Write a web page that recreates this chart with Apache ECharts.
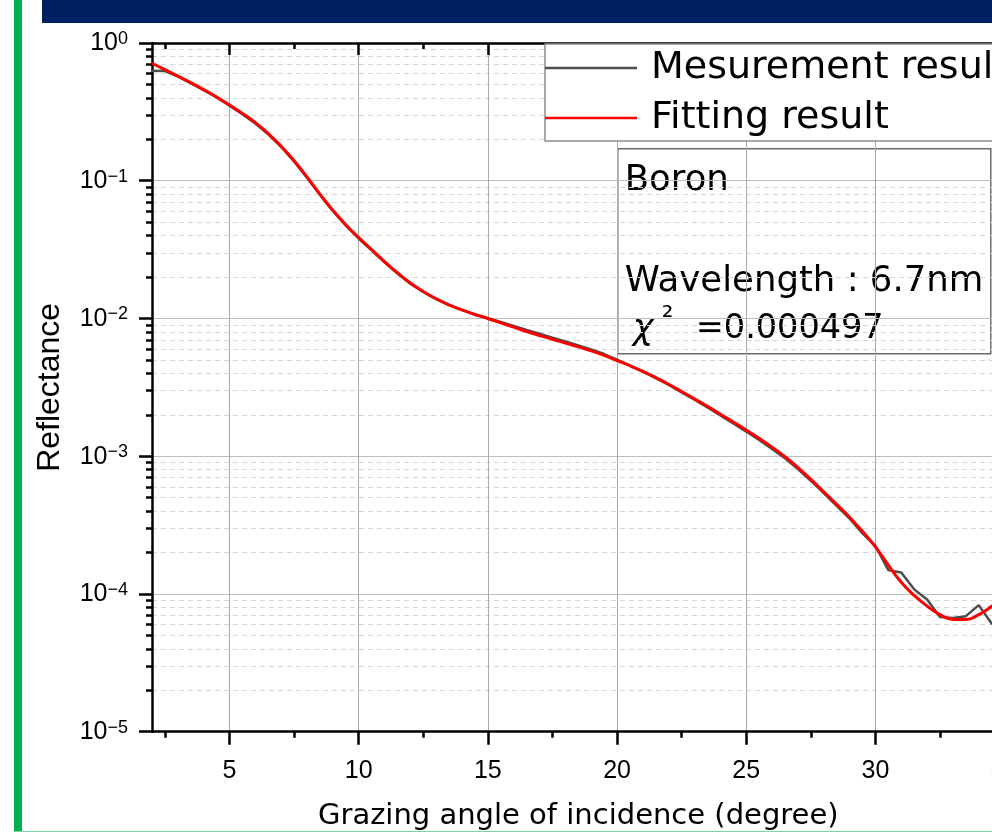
<!DOCTYPE html>
<html>
<head>
<meta charset="utf-8">
<script src="https://cdn.jsdelivr.net/npm/echarts@6/dist/echarts.min.js"></script>
<style>
  html, body { margin: 0; padding: 0; background: #ffffff; }
  #chart { width: 992px; height: 832px; }
</style>
</head>
<body>
<div id="chart"></div>
<script>
// Grazing angle (degree), sampled every 0.5 degree
const angles = [
  2.0, 2.5, 3.0, 3.5, 4.0, 4.5, 5.0, 5.5, 6.0, 6.5, 7.0, 7.5, 8.0, 8.5, 9.0, 9.5,
  10.0, 10.5, 11.0, 11.5, 12.0, 12.5, 13.0, 13.5, 14.0, 14.5, 15.0, 15.5, 16.0, 16.5,
  17.0, 17.5, 18.0, 18.5, 19.0, 19.5, 20.0, 20.5, 21.0, 21.5, 22.0, 22.5, 23.0, 23.5,
  24.0, 24.5, 25.0, 25.5, 26.0, 26.5, 27.0, 27.5, 28.0, 28.5, 29.0, 29.5, 30.0, 30.5,
  31.0, 31.5, 32.0, 32.5, 33.0, 33.5, 34.0, 34.5, 35.0
];

// Measured reflectance
const measured = [
  0.630, 0.625, 0.572, 0.511, 0.455, 0.402, 0.351, 0.304, 0.260, 0.217, 0.176, 0.138,
  0.1050, 0.0790, 0.0603, 0.0473, 0.0381, 0.0312, 0.0256, 0.0212, 0.0179, 0.0156,
  0.0138, 0.0125, 0.0115, 0.01070, 0.01005, 0.00945, 0.00884, 0.00826, 0.00774, 0.00726,
  0.00682, 0.00638, 0.00596, 0.00552, 0.00503, 0.00455, 0.00412, 0.00369, 0.00329,
  0.00291, 0.00257, 0.00226, 0.00198, 0.00173, 0.00151, 0.00131, 0.00113, 0.000965,
  0.000808, 0.000664, 0.000540, 0.000437, 0.000353, 0.000275, 0.000223, 0.000149,
  0.000143, 0.000108, 0.0000910, 0.0000680, 0.0000670, 0.0000690, 0.0000830,
  0.0000610, 0.0000560
];

// Fitted reflectance
const fitted = [
  0.713, 0.641, 0.575, 0.515, 0.459, 0.406, 0.355, 0.308, 0.264, 0.220, 0.178, 0.1396,
  0.1064, 0.0800, 0.0610, 0.0479, 0.0386, 0.0316, 0.0259, 0.0215, 0.0181, 0.0157,
  0.0139, 0.01256, 0.01153, 0.01069, 0.01000, 0.00929, 0.00865, 0.00805, 0.00753,
  0.00706, 0.00664, 0.00622, 0.00582, 0.00540, 0.00495, 0.00454, 0.00413, 0.00372,
  0.00333, 0.00295, 0.00261, 0.00230, 0.00202, 0.00177, 0.001549, 0.001349, 0.001164,
  0.000991, 0.000828, 0.000679, 0.000552, 0.000447, 0.000361, 0.000285, 0.000220,
  0.000162, 0.0001216, 0.0000977, 0.0000817, 0.0000708, 0.0000653, 0.0000652,
  0.0000708, 0.0000813, 0.0000955
];

// Axis ticks
const angleMajorTicks = [5, 10, 15, 20, 25, 30, 35];
const angleMinorTicks = [2.5, 7.5, 12.5, 17.5, 22.5, 27.5, 32.5];
const decadeTicks = [1e-5, 1e-4, 1e-3, 1e-2, 1e-1, 1];
const decadeSteps = [2, 3, 4, 5, 6, 7, 8, 9];
const reflMinorTicks = [];
decadeTicks.slice(0, -1).forEach(d => decadeSteps.forEach(k => reflMinorTicks.push(+(k * d).toPrecision(3))));

const seriesNames = ['Mesurement result', 'Fitting result'];
const infoTitle = 'Boron';
const infoWavelength = 'Wavelength : 6.7nm';
const infoChiSymbol = '\u03c7';
const infoChiPower = '\u00b2';
const infoChiValue = '=0.000497';

const AX = '#000000';
const SANS = '"Liberation Sans", Arial, sans-serif';
const DV = '"DejaVu Sans", sans-serif';

function decadeLabel(v) {
  const e = Math.round(Math.log10(v));
  const sup = e < 0 ? '\u2212' + (-e) : String(e);
  return '{b|10}{s|' + sup + '}';
}

const chart = echarts.init(document.getElementById('chart'), null, { renderer: 'canvas' });

const xBase = { type: 'value', min: 2, max: 35, gridIndex: 0 };
const yBase = { type: 'log', logBase: 10, min: 1e-5, max: 1, gridIndex: 0 };

chart.setOption({
  backgroundColor: '#ffffff',
  animation: false,
  grid: { left: 152, top: 43, right: -12.6, bottom: 100.3, containLabel: false, outerBoundsMode: 'none' },
  xAxis: [
    Object.assign({}, xBase, {
      position: 'bottom',
      name: 'Grazing angle of incidence (degree)',
      nameLocation: 'middle',
      nameGap: 70,
      nameTextStyle: { fontFamily: DV, fontSize: 29, color: '#000' },
      axisLine: { show: true, onZero: false, lineStyle: { color: AX, width: 2.5 } },
      axisTick: { show: true, inside: false, length: 13, customValues: angleMajorTicks, lineStyle: { color: AX, width: 2.5 } },
      axisLabel: { show: true, customValues: angleMajorTicks, margin: 27, fontFamily: SANS, fontSize: 25, color: '#000' },
      splitLine: { show: true, lineStyle: { color: '#aaaaaa', width: 1 } }
    }),
    Object.assign({}, xBase, {
      position: 'bottom',
      axisLine: { show: false, onZero: false },
      axisTick: { show: true, inside: false, length: 6, customValues: angleMinorTicks, lineStyle: { color: AX, width: 2.5 } },
      axisLabel: { show: false },
      splitLine: { show: false }
    }),
    Object.assign({}, xBase, {
      position: 'top',
      axisLine: { show: true, onZero: false, lineStyle: { color: AX, width: 2.5 } },
      axisTick: { show: true, inside: true, length: 12, customValues: angleMajorTicks, lineStyle: { color: AX, width: 2.5 } },
      axisLabel: { show: false },
      splitLine: { show: false }
    }),
    Object.assign({}, xBase, {
      position: 'top',
      axisLine: { show: false, onZero: false },
      axisTick: { show: true, inside: true, length: 6, customValues: angleMinorTicks, lineStyle: { color: AX, width: 2.5 } },
      axisLabel: { show: false },
      splitLine: { show: false }
    })
  ],
  yAxis: [
    Object.assign({}, yBase, {
      position: 'left',
      name: 'Reflectance',
      nameLocation: 'middle',
      nameGap: 86,
      nameTextStyle: { fontFamily: SANS, fontSize: 32, color: '#000' },
      axisLine: { show: true, onZero: false, lineStyle: { color: AX, width: 2.5 } },
      axisTick: { show: true, inside: false, length: 13, customValues: decadeTicks, lineStyle: { color: AX, width: 2.5 } },
      axisLabel: {
        show: true, customValues: decadeTicks, margin: 24, formatter: decadeLabel,
        rich: {
          b: { fontFamily: SANS, fontSize: 25, color: '#000', lineHeight: 26, verticalAlign: 'bottom' },
          s: { fontFamily: SANS, fontSize: 18, color: '#000', lineHeight: 18, verticalAlign: 'top' }
        }
      },
      splitLine: { show: true, lineStyle: { color: '#bdbdbd', width: 1 } }
    }),
    Object.assign({}, yBase, {
      position: 'left',
      axisLine: { show: false, onZero: false },
      axisTick: { show: true, inside: false, length: 6, customValues: reflMinorTicks, lineStyle: { color: AX, width: 2.5 } },
      axisLabel: { show: false },
      splitLine: { show: true, lineStyle: { color: '#d6d6d6', width: 1, type: [5, 4] } }
    })
  ],
  legend: {
    orient: 'vertical',
    left: 545,
    top: 44,
    padding: [2, 60, 1, 0],
    itemGap: 6,
    itemWidth: 92,
    itemHeight: 2.6,
    icon: 'rect',
    backgroundColor: '#ffffff',
    borderColor: '#8c8c8c',
    borderWidth: 1.5,
    borderRadius: 0,
    data: seriesNames,
    textStyle: { fontFamily: DV, fontSize: 38, lineHeight: 38, color: '#000', padding: [6, 0, 0, 9] }
  },
  graphic: [
    { type: 'rect', z: 100, shape: { x: 42, y: 0, width: 950, height: 23 }, style: { fill: '#002060' } },
    { type: 'rect', z: 100, shape: { x: 14, y: 0, width: 8, height: 832 }, style: { fill: '#00b050' } },
    { type: 'rect', z: 100, shape: { x: 14, y: 831, width: 978, height: 1 }, style: { fill: '#80d4a4' } },
    {
      type: 'group', z: 100, left: 617, top: 148,
      children: [
        { type: 'rect', shape: { x: 0, y: 0, width: 373, height: 205 }, style: { fill: '#ffffff', stroke: '#6a6a6a', lineWidth: 1.5 } },
        { type: 'text', x: 7, y: 14, style: { text: infoTitle, font: '35.5px ' + DV, fill: '#000', verticalAlign: 'top' } },
        { type: 'text', x: 7, y: 115.5, style: { text: infoWavelength, font: '35.5px ' + DV, fill: '#000', verticalAlign: 'top' } },
        { type: 'text', x: 15, y: 164, style: { text: infoChiSymbol, font: 'italic 35px ' + DV, fill: '#000', verticalAlign: 'top' } },
        { type: 'text', x: 44, y: 156, style: { text: infoChiPower, font: '29px ' + DV, fill: '#000', verticalAlign: 'top' } },
        { type: 'text', x: 78, y: 164, style: { text: infoChiValue, font: '33.5px ' + DV, fill: '#000', verticalAlign: 'top' } }
      ]
    }
  ],
  series: [
    {
      name: seriesNames[0],
      type: 'line',
      xAxisIndex: 0,
      yAxisIndex: 0,
      showSymbol: false,
      symbol: 'none',
      color: '#4d4d4d',
      lineStyle: { color: '#4d4d4d', width: 2.5 },
      data: angles.map((a, i) => [a, measured[i]]),
      z: 3
    },
    {
      name: seriesNames[1],
      type: 'line',
      xAxisIndex: 0,
      yAxisIndex: 0,
      showSymbol: false,
      symbol: 'none',
      smooth: 0.5,
      color: '#ff0000',
      lineStyle: { color: '#ff0000', width: 3 },
      data: angles.map((a, i) => [a, fitted[i]]),
      z: 4
    }
  ]
});
</script>
</body>
</html>
